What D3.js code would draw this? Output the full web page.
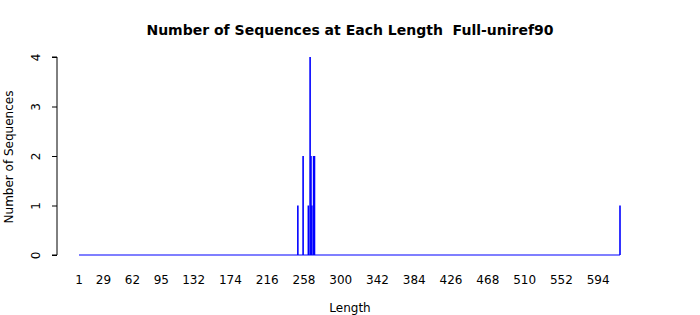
<!DOCTYPE html>
<html>
<head>
<meta charset="utf-8">
<script src="https://cdn.jsdelivr.net/npm/d3@7"></script>
<style>
  body { margin: 0; background: #fff; }
  svg { display: block; font-family: "DejaVu Sans", sans-serif; }
</style>
</head>
<body>
<div class="chart"></div>
<script>
// sequence lengths that have counts, and the counts themselves
var lengths = [251, 257, 263, 265, 266, 267, 269, 270, 619];
var counts  = [1, 2, 1, 4, 2, 1, 2, 2, 1];
var xTicks = [1, 29, 62, 95, 132, 174, 216, 258, 300, 342, 384, 426, 468, 510, 552, 594];
var yTicks = [0, 1, 2, 3, 4];

var width = 700;
var height = 315;

var x = d3.scaleLinear().domain([1, 619]).range([79, 620]);
var y = d3.scaleLinear().domain([0, 4]).range([255, 57]);

var svg = d3.select('.chart').append('svg')
  .attr('width', width)
  .attr('height', height);

svg.append('text')
  .attr('x', 350)
  .attr('y', 35)
  .attr('text-anchor', 'middle')
  .style('font-size', '14px')
  .style('font-weight', 'bold')
  .style('white-space', 'pre')
  .text('Number of Sequences at Each Length  Full-uniref90');

// baseline across the whole length range
svg.append('line')
  .attr('x1', x(1)).attr('x2', x(619))
  .attr('y1', y(0)).attr('y2', y(0))
  .attr('stroke', 'blue')
  .attr('stroke-width', 1.2);

svg.selectAll('line.bar')
  .data(lengths)
  .enter().append('line')
  .attr('class', 'bar')
  .attr('x1', d => x(d)).attr('x2', d => x(d))
  .attr('y1', y(0))
  .attr('y2', (d, i) => y(counts[i]))
  .attr('stroke', 'blue')
  .attr('stroke-width', 1.6);

// y axis, R style
var yAxis = d3.axisLeft(y).tickValues(yTicks).tickSize(5).tickFormat(d3.format('d'));
var gy = svg.append('g')
  .attr('transform', 'translate(57,0)')
  .call(yAxis);
gy.select('.domain').attr('d', `M-5,${y(4)}H0V${y(0)}H-5`).attr('stroke', '#000');
gy.selectAll('.tick line').attr('stroke', '#000');
gy.selectAll('.tick text')
  .attr('x', 0).attr('y', 0).attr('dy', 0)
  .attr('text-anchor', 'middle')
  .attr('transform', 'translate(-17,0) rotate(-90)')
  .style('font-size', '12px')
  .style('font-family', 'DejaVu Sans, sans-serif')
  .attr('fill', '#000');

// x tick labels only, no axis line
svg.selectAll('text.xlab')
  .data(xTicks)
  .enter().append('text')
  .attr('class', 'xlab')
  .attr('x', d => x(d))
  .attr('y', 284)
  .attr('text-anchor', 'middle')
  .style('font-size', '12px')
  .text(d => d);

svg.append('text')
  .attr('x', 350)
  .attr('y', 312)
  .attr('text-anchor', 'middle')
  .style('font-size', '12px')
  .text('Length');

svg.append('text')
  .attr('transform', 'translate(13,157) rotate(-90)')
  .attr('text-anchor', 'middle')
  .style('font-size', '12px')
  .text('Number of Sequences');
</script>
</body>
</html>
